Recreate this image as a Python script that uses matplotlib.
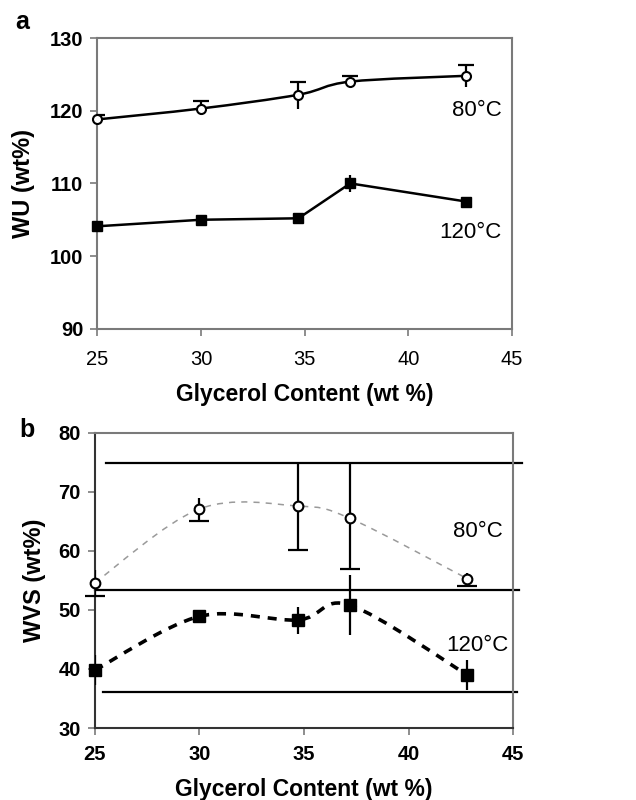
import matplotlib
matplotlib.use("Agg")
import matplotlib.pyplot as plt
from matplotlib.path import Path
from matplotlib.patches import PathPatch
import numpy as np

plt.rcParams['font.family'] = ['Liberation Sans', 'DejaVu Sans']

# glycerol content (wt %)
glycerol = [25.0, 30.0, 34.7, 37.2, 42.8]

# panel a: water uptake (wt%)
wu_80 = [118.8, 120.3, 122.2, 124.0, 124.8]
wu_80_up = [0.6, 1.0, 1.8, 0.8, 1.5]
wu_80_lo = [0.0, 0.9, 2.0, 0.0, 1.6]
wu_120 = [104.1, 105.0, 105.2, 110.0, 107.5]
wu_120_up = [0.3, 0.3, 0.3, 1.2, 0.4]
wu_120_lo = [0.3, 0.5, 0.3, 1.2, 0.4]

# panel b: water vapour sorption (wt%)
wvs_80 = [54.6, 67.1, 67.6, 65.5, 55.3]
wvs_80_up = [2.2, 1.8, 7.5, 9.4, 1.0]
wvs_80_lo = [2.2, 2.1, 7.4, 8.6, 1.3]
wvs_120 = [39.8, 48.9, 48.3, 50.8, 39.0]
wvs_120_up = [2.6, 0.6, 2.2, 5.1, 2.5]
wvs_120_lo = [2.5, 0.6, 2.3, 5.0, 2.6]

# stray horizontal rules in panel b: (y, x start, x end)
rules_b = [(74.9, 25.53, 45.43), (53.4, 25.0, 45.29), (36.1, 25.38, 45.19)]

SPINE = '#7a7a7a'


def smooth(ax, x, y, **kw):
    # Excel-like smoothed line (Catmull-Rom as cubic Bezier)
    x = np.asarray(x); y = np.asarray(y)
    n = len(x)
    verts = [(x[0], y[0])]
    codes = [Path.MOVETO]
    for i in range(n - 1):
        p0 = np.array([x[max(i - 1, 0)], y[max(i - 1, 0)]])
        p1 = np.array([x[i], y[i]])
        p2 = np.array([x[i + 1], y[i + 1]])
        p3 = np.array([x[min(i + 2, n - 1)], y[min(i + 2, n - 1)]])
        c1 = p1 + (p2 - p0) / 6.0
        c2 = p2 - (p3 - p1) / 6.0
        verts += [tuple(c1), tuple(c2), tuple(p2)]
        codes += [Path.CURVE4] * 3
    ax.add_patch(PathPatch(Path(verts, codes), fill=False, **kw))


def style(ax, ylim, yticks, xbold, xpad):
    ax.set_xlim(25, 45)
    ax.set_ylim(*ylim)
    ax.set_xticks([25, 30, 35, 40, 45])
    ax.set_yticks(yticks)
    for s in ax.spines.values():
        s.set_color(SPINE)
        s.set_linewidth(1.5)
    ax.tick_params(direction='out', length=5, width=1.2, color=SPINE,
                   labelsize=14.5)
    ax.tick_params(axis='x', pad=xpad)
    ax.tick_params(axis='y', pad=5)
    for t in ax.get_yticklabels():
        t.set_fontweight('bold')
    for t in ax.get_xticklabels():
        t.set_fontweight('bold' if xbold else 'normal')
    ax.set_xlabel('Glycerol Content (wt %)', fontsize=16.5, fontweight='bold',
                  labelpad=10)


fig = plt.figure(figsize=(6.36, 8.0), dpi=100)

# ---- panel a
ax = fig.add_axes([0.153, 0.589, 0.652, 0.3635])
smooth(ax, glycerol, wu_80, color='black', lw=1.8, zorder=2)
ax.plot(glycerol, wu_120, color='black', lw=1.8, zorder=2)
ax.errorbar(glycerol, wu_80, yerr=[wu_80_lo, wu_80_up], fmt='none',
            ecolor='black', elinewidth=1.6, capsize=0, zorder=3)
ax.plot(glycerol, np.add(wu_80, wu_80_up), ls='none', marker='_',
        ms=12, mew=1.6, color='black', zorder=3)
ax.errorbar(glycerol, wu_120, yerr=[wu_120_lo, wu_120_up], fmt='none',
            ecolor='black', elinewidth=1.6, capsize=0, zorder=3)
ax.plot(glycerol, wu_80, ls='none', marker='o', ms=6.5, mfc='white',
        mec='black', mew=1.5, zorder=4, clip_on=False)
ax.plot(glycerol, wu_120, ls='none', marker='s', ms=7.5, color='black',
        zorder=4, clip_on=False)
style(ax, (90, 130), [90, 100, 110, 120, 130], xbold=False, xpad=10.5)
ax.set_ylabel('WU (wt%)', fontsize=17, fontweight='bold', labelpad=11)
ax.text(43.3, 120.0, '80°C', fontsize=16, ha='center', va='center')
ax.text(43.0, 103.2, '120°C', fontsize=16, ha='center', va='center')
fig.text(0.024, 0.972, 'a', fontsize=18, fontweight='bold', va='center')

# ---- panel b
bx = fig.add_axes([0.149, 0.09, 0.658, 0.369])
smooth(bx, glycerol, wvs_80, color='#9a9a9a', lw=1.1, ls=(0, (4, 4)), zorder=2)
smooth(bx, glycerol, wvs_120, color='black', lw=2.6, ls=(0, (2.5, 2.2)), zorder=2)
for yv, xa, xb in rules_b:
    bx.plot([xa, xb], [yv, yv], color='black', lw=1.6, zorder=2, clip_on=False)
bx.errorbar(glycerol, wvs_80, yerr=[wvs_80_lo, wvs_80_up], fmt='none',
            ecolor='black', elinewidth=1.6, capsize=0, zorder=3)
bx.plot(glycerol, np.subtract(wvs_80, wvs_80_lo), ls='none', marker='_',
        ms=14, mew=1.6, color='black', zorder=3, clip_on=False)
bx.errorbar(glycerol, wvs_120, yerr=[wvs_120_lo, wvs_120_up], fmt='none',
            ecolor='black', elinewidth=1.6, capsize=0, zorder=3)
bx.plot(glycerol, wvs_80, ls='none', marker='o', ms=7, mfc='white',
        mec='black', mew=1.5, zorder=4, clip_on=False)
bx.plot(glycerol, wvs_120, ls='none', marker='s', ms=8, color='black',
        zorder=4, clip_on=False)
style(bx, (30, 80), [30, 40, 50, 60, 70, 80], xbold=True, xpad=7)
bx.spines['left'].set_color('#333333')
bx.spines['bottom'].set_color('#333333')
bx.set_ylabel('WVS (wt%)', fontsize=17, fontweight='bold', labelpad=9)
bx.text(43.3, 63.2, '80°C', fontsize=16, ha='center', va='center')
bx.text(43.3, 44.0, '120°C', fontsize=16, ha='center', va='center')
fig.text(0.03, 0.462, 'b', fontsize=18, fontweight='bold', va='center')

fig.savefig('out.png', dpi=100)
